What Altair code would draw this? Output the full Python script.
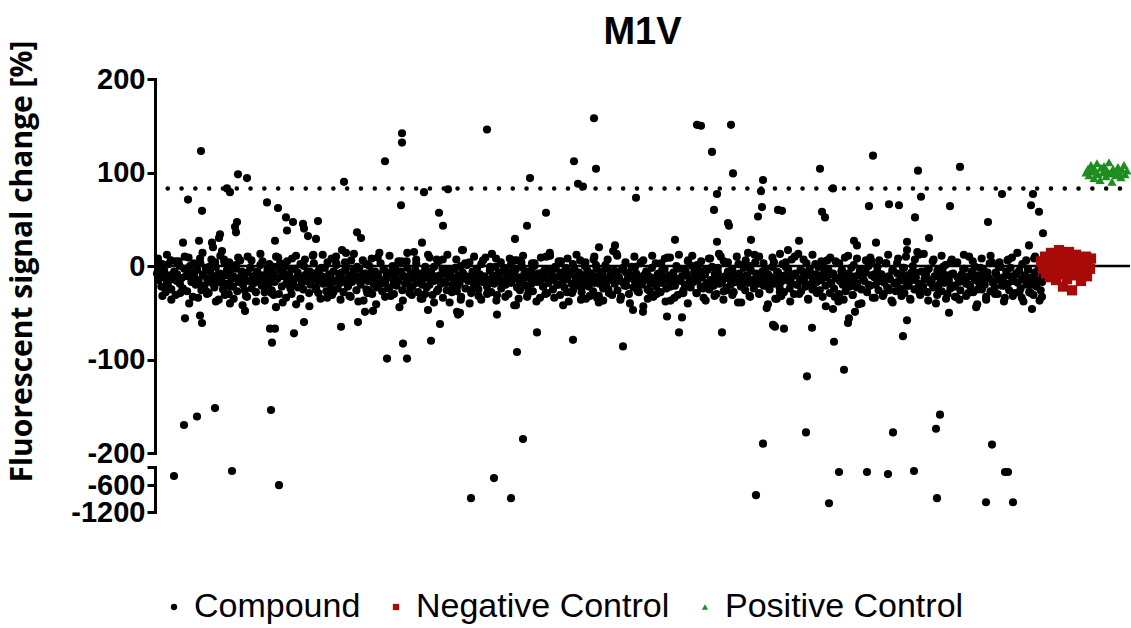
import altair as alt
import numpy as np
import pandas as pd

# ---------------- data ----------------
groups = ["Compound", "Negative Control", "Positive Control"]
group_colors = ["#000000", "#a80a0a", "#1e8c1e"]
group_shapes = ["circle", "square", "triangle-up"]

THRESHOLD = 83
ZERO = 0

# dense band of compounds, first pass in plate order
band_values_a = [
    -8, -15, 3, -22, -12, -5, -28, -18, 2, -10, -25, -14, -6, -31, -9, 5, -19, -13, -24, -3,
    -11, -27, -7, 0, -17, -33, -12, -20, -4, -15, 8, -26, -9, -21, -2, -14, -29, -6, -18, -11,
    -23, -1, -16, -36, -8, -13, -25, 4, -19, -10, -30, -5, -14, -22, -12, -3, -27, -17, 6, -9,
    -20, -13, -32, -7, -16, -2, -24, -11, -18, -38, -6, -14, 1, -21, -10, -28, -15, -4, -19, -12,
    -26, -8, -17, 10, -13, -30, -5, -22, -11, -1, -34, -16, -9, -24, -3, -19, -14, -41, -7, -12,
    2, -18, -25, -10, -15, -6, -29, -20, -13, 12, -8, -23, -16, -4, -35, -11, -19, -2, -27, -14,
    -9, -21, -31, -6, -16, 3, -24, -12, -18, -7, -28, -15, -1, -22, -10, -33, -17, -5, -13, -26,
    -11, -3, -20, -14, -37, -8, -25, -16, 0, -12, -30, -19, -6, -23, -9, 14, -15, -27, -4, -18,
    -13, -24, -7, -32, -10, -17, -2, -21, -14, -44, -6, -26, -11, -19, 5, -16, -29, -8, -22, -12,
    -4, -18, -28, -9, -15, -35, -13, -1, -23, -10, -20, -6, -31, -16, -11, 7, -25, -14, -19, -3,
    -17, -8, -26, -12, -39, -5, -21, -15, -2, -27, -10, -18, -33, -7, -13, -24, 1, -16, -11, -29,
    -6, -20, -14, -3, -25, -9, -36, -17, -12, 9, -22, -15, -5, -28, -10, -19, -1, -31, -13, -8,
    -24, -16, -2, -20, -11, -30, -7, -18, -14, -42, -4, -23, -12, -26, 4, -15, -9, -21, -33, -6,
    -13, -19, -27, 0, -10, -17, -8, -34, -14, -22, -5, -12, -29, -18, 11, -9, -25, -15, -3, -20,
    -11, -31, -7, -16, -23, -2, -14, -38, -9, -19, -26, -4, -12, -21, -15, 6, -28, -10, -17, -35,
    -5, -22, -13, -8, -27, -18, 1, -11, -32, -16, -6, -24, -14, -20, -3, -29, -10, -15, 16, -19,
    -9, -26, -12, -36, -4, -18, -21, -7, -14, -30, -11, -1, -23, -16, -8, -27, -13, 3, -20, -43,
    -15, -6, -25, -11, -19, -2, -33, -13, -22, -9, -17, -28, -5, -12, 8, -24, -16, -10, -37, -18,
    -7, -21, -14, -31, -3, -16, -11, -26, -20, -8, -40, -13, -23, 0, -17, -10, -29, -15, -5, -22,
    -12, -34, -9, -18, -4, -25, -15, -1, -21, -13, -30, -7, -19, 10, -16, -27, -11, -23, -6, -14,
    -20, -3, -28, -12, -17, -39, -8, -22, -14, -2, -26, -10, -18, -32, -5, -15, -24, 4, -11, -19,
    -29, -13, -6, -21, -16, -45, -9, -25, -12, -1, -19, -35, -14, -7, -23, -17, 2, -28, -10, -15,
    -4, -24, -18, -11, -30, -8, -20, 13, -14, -27, -6, -16, -22, -10, -36, -3, -19, -13, -25, -9,
    -17, -1, -26, -15, -33, -7, -21, -12, -4, -29, -18, -9, -24, 5, -13, -38, -16, -6, -20, -11,
    -27, -14, -8, -22, -2, -31, -17, -11, -19, -41, -5, -25, -13, -16, -7, -28, 0, -21, -10, -34,
    -12, -20, -6, -26, -15, -9, -32, -18, 3, -23, -11, -14, -37, -4, -19, -27, -8, -16, -24, -13,
    -2, -29, -17, -10, -21, -35, -7, -15, -25, -12, 15, -19, -31, -6, -22, -14, -9, -28, -3, -18,
    -16, -23, -11, -40, -5, -20, -13, -27, -1, -18, -10, -30, -15, -24, 7, -8, -21, -33, -12, -17,
    -26, -9, -14, -3, -32, -19, -11, -22, -6, -28, -15, -44, -10, -18, -2, -25, -13, -20, -36, -7,
    -13, -27, 4, -17, -23, -9, -30, -15, -1, -21, -12, -34, -6, -19, -26, -11, 9, -16, -29, -8,
    -18, -5, -24, -14, -38, -10, -20, -3, -28, -16, -12, -31, -7, -22, -15, -2, -26, -17, -9, -13,
]
# dense band, second pass (interleaved wells)
band_values_b = [
    -5, 2, -12, -20, 6, -8, -16, 0, -24, -3, 9, -14, -7, -19, 3, -10, -27, -1, -13, 4,
    -9, -18, 7, -4, -22, -11, 1, -15, -6, -26, 10, -2, -17, -8, -12, 5, -21, -5, -29, -1,
    -14, 3, -7, -19, -10, 8, -3, -23, -13, 0, -16, -6, 11, -25, -9, -2, -18, 4, -11, -28,
    1, -8, -15, -4, -21, 6, -12, -1, -17, -9, 2, -26, -6, -14, 9, -19, -3, -10, -23, 0,
    -7, -16, 5, -11, -2, -24, -13, 3, -8, -20, -5, 12, -15, -1, -27, -10, 7, -18, -4, -12,
    -3, -21, 0, -9, -14, 4, -25, -6, -17, 2, -11, -30, -1, -13, 8, -7, -19, -4, -16, 1,
    -10, 6, -18, -2, -12, -26, -5, 3, -15, -8, -22, 10, -4, -13, -1, -20, 5, -9, -28, -6,
    2, -14, -7, -23, 0, -11, -17, 7, -3, -19, -9, 1, -25, -12, -5, 11, -16, -2, -21, -8,
    -13, -1, -20, 4, -10, -6, -27, -15, 3, -8, -18, -3, 9, -22, -11, 0, -14, -29, -5, 6,
    -16, -7, 1, -12, -24, -4, 8, -19, -9, -2, -14, 5, -26, -10, -6, -17, 2, -21, -1, -11,
    0, -18, -8, 10, -13, -3, -22, -15, 4, -6, -28, -11, -1, -16, 7, -9, -20, -4, -12, 3,
    -6, -25, 2, -10, -15, -2, 6, -19, -8, -13, -30, -4, 9, -17, -11, 1, -23, -7, -14, -3,
    -20, 5, -9, -1, -16, -12, 3, -26, -5, -18, 8, -10, -2, -21, -14, 0, -7, 12, -24, -8,
    -4, -15, 7, -11, -27, -6, 1, -17, -9, -22, 4, -13, -3, -19, 10, -8, -1, -25, -12, -5,
    -11, 3, -18, -7, 0, -14, -21, 6, -2, -16, -9, -28, 2, -12, -4, -20, 8, -6, -15, -10,
]
# edges of the band, third pass
band_values_c = [
    8, -32, 12, -36, 5, -29, 10, -40, 3, -34, 14, -30, 7, -38, 11, -31, 4, -35, 9, -42,
    -33, 6, -28, 13, -37, 2, -31, 9, -39, 5, -30, 11, -35, 7, -43, 3, -29, 12, -34, 8,
    10, -36, 4, -32, 13, -38, 6, -29, 8, -41, 3, -33, 11, -30, 5, -37, 14, -31, 7, -35,
    -30, 9, -39, 5, -34, 12, -28, 7, -36, 3, -40, 10, -32, 6, -29, 13, -37, 4, -33, 8,
    6, -35, 11, -31, 3, -38, 9, -30, 14, -34, 5, -42, 8, -29, 12, -36, 4, -32, 10, -39,
    -37, 7, -31, 13, -33, 4, -40, 10, -28, 6, -35, 11, -30, 3, -38, 9, -34, 12, -29, 5,
    11, -29, 5, -37, 8, -32, 13, -36, 4, -31, 10, -39, 6, -33, 12, -30, 3, -41, 9, -35,
    -32, 4, -38, 10, -30, 7, -35, 12, -29, 5, -43, 9, -33, 3, -36, 11, -31, 8, -40, 6,
    9, -34, 6, -30, 12, -39, 3, -32, 10, -36, 7, -28, 13, -37, 5, -31, 11, -35, 4, -33,
    -36, 12, -29, 5, -41, 8, -33, 11, -30, 4, -38, 7, -32, 14, -34, 6, -29, 10, -37, 3,
]

# scattered compounds (plate position, signal change %)
outlier_wells = [
    46, 33, 47, 28, 44, 57, 58, 65, 64, 67, 75, 72, 83, 92, 82, 80, 81, 112, 123, 131,
    138, 132, 148, 149, 153, 163, 161, 120, 189, 202, 206, 187, 191, 230, 247, 247, 246, 269, 284, 288,
    267, 259, 293, 307,
    30, 45, 47, 75, 90, 121, 115, 120, 117, 139, 149, 186, 203, 210, 218, 232, 248, 252, 276, 285,
    302, 303, 273,
    29, 42, 60, 116, 19, 77, 124,
    332, 439, 542, 576, 546, 557, 419, 441, 375, 423, 428, 481, 578, 608, 606, 562, 559, 573, 574, 607,
    603, 623, 391, 372, 360, 520, 444, 460, 562, 596, 593, 308,
    342, 361, 382, 362, 418, 468, 478, 488, 512, 527, 524, 567, 618, 620, 442, 305,
    368, 608, 339, 316, 356,
    718, 665, 763, 805, 678, 847, 878, 876, 884, 766, 627, 667, 670, 714, 734, 744, 760, 795, 833, 888,
    644, 699, 702, 721, 752, 752, 774, 874, 633, 625,
    619, 629, 657, 678, 693, 694, 700, 679, 752, 748, 794, 652, 689, 877, 887,
    651, 738, 781, 785, 837,
    684, 712, 733, 759, 850, 853, 601, 674, 782, 831, 858,
]
outlier_values = [
    123, 71, 59, 25, 27, 25, 20, 34, 30, 16, 79, 83, 98, 94, 47, 42, 36, 68, 62, 52,
    47, 38, 45, 40, 32, 48, 29, 27, 90, 36, 30, 17, 14, 112, 142, 132, 65, 79, 57, 43,
    25, 15, 82, 17,
    -56, -53, -61, -40, -48, -44, -67, -67, -82, -72, -60, -65, -60, -49, -48, -99, -83, -99, -80, -62,
    -49, -52, -47,
    -170, -161, -152, -154, -401, -289, -603,
    146, 158, 151, 151, 150, 122, 112, 104, 94, 88, 85, 73, 99, 92, 80, 77, 60, 46, 43, 63,
    53, 60, 57, 43, 29, 28, 20, 22, 26, 28, 14, 17,
    -52, -42, -71, -92, -79, -86, -47, -49, -54, -55, -71, -71, -63, -65, -34, -50,
    -185, -190, -446, -893, -893,
    118, 104, 102, 106, 83, 77, 77, 65, 58, 74, 59, 58, 52, 64, 66, 65, 52, 64, 47, 35,
    27, 27, 22, 25, 26, 17, 30, 22, 17, 13,
    -64, -67, -66, -46, -61, -56, -49, -81, -58, -75, -50, -118, -111, -46, -33,
    -178, -178, -174, -159, -191,
    -312, -312, -357, -289, -312, -312, -826, -1005, -893, -983, -983,
]

neg_wells = [886, 888, 890, 891, 893, 895, 896, 898, 899, 901, 902, 904, 905, 906, 908, 909, 910, 912,
             913, 914, 916, 917, 918, 920, 921, 922, 924, 925, 926, 928, 929, 931, 932, 933, 935, 936]
neg_values = [5, -3, 10, -8, 2, -12, 14, -5, 7, -15, 0, 17, -9, 4, -22, 11, -4, -14,
              8, 15, -2, -26, 6, -10, 12, 1, -7, 9, -16, 3, -6, 10, -11, 5, -3, 8]

pos_wells = [931, 933, 934, 936, 937, 939, 940, 942, 943, 945, 946, 948, 949, 951, 952, 954, 955, 957,
             958, 960, 961, 963, 964, 966, 967, 969, 970, 972]
pos_values = [100, 104, 97, 108, 101, 94, 103, 110, 98, 92, 105, 100, 107, 96, 102, 111, 99, 90,
              104, 101, 97, 106, 100, 95, 103, 108, 98, 102]

# ---------------- tables ----------------
wells_a = np.linspace(2, 890, len(band_values_a))
wells_b = np.linspace(4, 888, len(band_values_b))
wells_c = np.linspace(3, 889, len(band_values_c))
comp = pd.DataFrame({
    "well": list(wells_a) + list(wells_b) + list(wells_c) + outlier_wells,
    "value": band_values_a + band_values_b + band_values_c + outlier_values,
    "group": "Compound",
})
neg = pd.DataFrame({"well": neg_wells, "value": neg_values, "group": "Negative Control"})
pos = pd.DataFrame({"well": pos_wells, "value": pos_values, "group": "Positive Control"})
lines = pd.DataFrame({"value": [ZERO, THRESHOLD], "kind": ["zero", "threshold"]})

# ---------------- encodings ----------------
FONT = "Liberation Sans"
W, H = 975, 433

x_enc = alt.X("well:Q", scale=alt.Scale(domain=[0, W], nice=False, zero=False), axis=None)

axis_common = dict(
    orient="left", domainColor="black", domainWidth=3, tickColor="black", tickWidth=3,
    tickSize=8, labelFont=FONT, labelFontWeight="bold", labelFontSize=29, labelColor="black",
    labelPadding=2, labelOverlap=False, labelFlush=False, grid=False, domainCap="square",
)
y_top = alt.Y(
    "value:Q",
    scale=alt.Scale(domain=[-200, 200], range=[374, 0], nice=False, zero=False),
    axis=alt.Axis(
        values=[200, 100, 0, -100, -200],
        labelExpr="toString(datum.value)",
        title="Fluorescent signal change [%]",
        titleFont="Open Sans", titleFontWeight="bold", titleFontSize=30, titleColor="black",
        titleAngle=270, titleX=-133, titleY=182, titleAlign="center", titleBaseline="middle",
        **axis_common,
    ),
)
y_top_plain = alt.Y("value:Q")
y_bot = alt.Y(
    "value:Q",
    scale=alt.Scale(domain=[-1200, -200], range=[433, 388], nice=False, zero=False),
    axis=alt.Axis(
        values=[-200, -600, -1200], title=None,
        labelExpr="datum.value == -200 ? '' : toString(datum.value)",
        **axis_common,
    ),
)

color_enc = alt.Color(
    "group:N",
    scale=alt.Scale(domain=groups, range=group_colors),
    legend=alt.Legend(
        title=None, orient="none", direction="horizontal", legendX=2, legendY=511,
        labelFont=FONT, labelFontSize=34, labelColor="black", symbolSize=40, labelLimit=0,
        symbolStrokeWidth=0, labelOffset=3, columnPadding=18,
    ),
)
shape_enc = alt.Shape("group:N", scale=alt.Scale(domain=groups, range=group_shapes))

zero_rule = alt.Chart(lines).transform_filter("datum.kind == 'zero'").mark_rule(
    color="black", strokeWidth=2.5
).encode(y=y_top_plain)
thr_rule = alt.Chart(lines).transform_filter("datum.kind == 'threshold'").mark_rule(
    color="black", strokeWidth=4.5, strokeDash=[0.1, 13.7], strokeCap="round", strokeDashOffset=-10
).encode(y=y_top_plain)

comp_top = alt.Chart(comp).transform_filter("datum.value >= -200").mark_point(
    filled=True, size=66, opacity=1
).encode(x=x_enc, y=y_top, color=color_enc, shape=shape_enc)
neg_pts = alt.Chart(neg).mark_point(filled=True, size=105, opacity=1).encode(
    x=x_enc, y=y_top_plain, color=color_enc, shape=shape_enc)
pos_pts = alt.Chart(pos).mark_point(filled=True, size=85, opacity=1).encode(
    x=x_enc, y=y_top_plain, color=color_enc, shape=shape_enc)

top = alt.layer(zero_rule, thr_rule, comp_top, neg_pts, pos_pts)

comp_bot = alt.Chart(comp).transform_filter("datum.value < -200").mark_point(
    filled=True, size=66, opacity=1
).encode(x=x_enc, y=y_bot, color=color_enc, shape=shape_enc)

chart = alt.layer(top, comp_bot).resolve_scale(y="independent").properties(
    width=W, height=H,
    autosize="none",
    padding={"left": 155, "top": 79, "right": 1, "bottom": 116},
    title=alt.TitleParams("M1V", font=FONT, fontSize=38, fontWeight="bold", color="black",
                          anchor="middle", offset=-12),
    background="white",
).configure_view(stroke=None)

chart.save("out.html", embed_options={"renderer": "svg", "actions": False})
